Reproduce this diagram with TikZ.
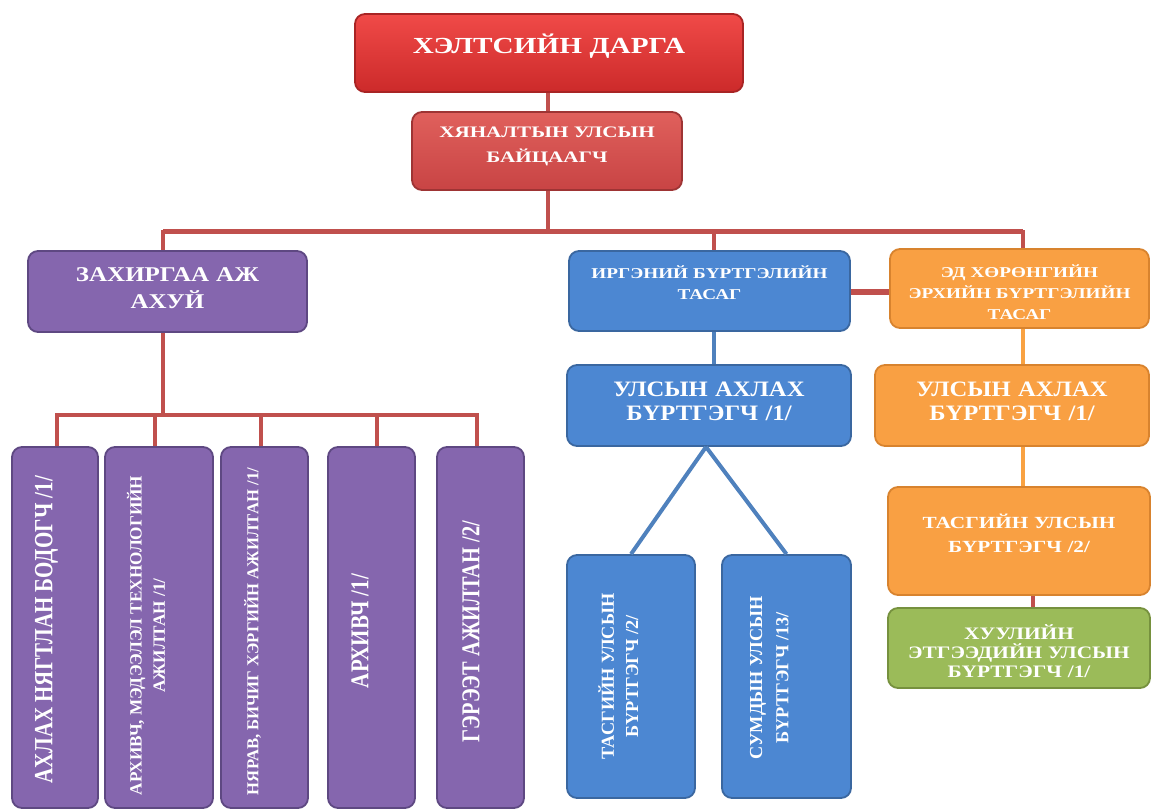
\documentclass[tikz,border=0pt]{standalone}
\usepackage{fontspec}
\usepackage{graphicx}
\setmainfont{Liberation Serif}
\newfontfamily\stTitle[FakeStretch=1.27]{Liberation Serif}
\newfontfamily\stIns[FakeStretch=1.32]{Liberation Serif}
\newfontfamily\stAdm[FakeStretch=1.19]{Liberation Serif}
\newfontfamily\stDep[FakeStretch=1.28]{Liberation Serif}
\newfontfamily\stSen[FakeStretch=1.12]{Liberation Serif}
\newfontfamily\stTas[FakeStretch=1.25]{Liberation Serif}
\newfontfamily\stGrn[FakeStretch=1.22]{Liberation Serif}
\definecolor{redT}{HTML}{F04A48}
\definecolor{redB}{HTML}{CC2A2A}
\definecolor{redE}{HTML}{A82424}
\definecolor{insT}{HTML}{E0605C}
\definecolor{insB}{HTML}{C84444}
\definecolor{insE}{HTML}{9E3434}
\definecolor{purF}{HTML}{8566AE}
\definecolor{purE}{HTML}{5E4882}
\definecolor{bluF}{HTML}{4C87D2}
\definecolor{bluE}{HTML}{3A67A0}
\definecolor{oraF}{HTML}{F9A043}
\definecolor{oraE}{HTML}{D8832E}
\definecolor{grnF}{HTML}{9BBB59}
\definecolor{grnE}{HTML}{76913E}
\definecolor{lnRed}{HTML}{C0504D}
\definecolor{lnBlue}{HTML}{4F81BD}
\definecolor{lnOra}{HTML}{F9A242}
\newcommand{\fs}[1]{\fontsize{#1}{#1}\selectfont}
\newcommand{\vtxt}[2]{\rotatebox{90}{\scalebox{1}[#1]{#2}}}
\tikzset{
  x=1pt, y=-1pt,
  box/.style={rounded corners=10pt, line width=1.8pt, inner sep=0pt},
  redbox/.style={box, draw=redE, top color=redT, bottom color=redB},
  insbox/.style={box, draw=insE, top color=insT, bottom color=insB},
  purbox/.style={box, draw=purE, fill=purF},
  blubox/.style={box, draw=bluE, fill=bluF},
  orabox/.style={box, draw=oraE, fill=oraF},
  grnbox/.style={box, draw=grnE, fill=grnF},
  rline/.style={draw=lnRed, line width=4pt},
  bline/.style={draw=lnBlue, line width=4pt},
  oline/.style={draw=lnOra, line width=4pt},
  lbl/.style={text=white, align=center, inner sep=0pt, text width=260pt},
  vlbl/.style={text=white, inner sep=0pt},
  bs/.style={execute at begin node={\setlength{\baselineskip}{#1}}},
}
\begin{document}
\begin{tikzpicture}
\useasboundingbox (0,0) rectangle (1151,810);
% top
\node[redbox, minimum width=388, minimum height=78,
  label={[lbl, text width=370pt, font=\stTitle\bfseries\fs{23}, yshift=7pt]center:ХЭЛТСИЙН ДАРГА}] (dir) at (549,53) {};
\node[insbox, minimum width=270, minimum height=78,
  label={[lbl, font=\stIns\bfseries\fs{16}, bs=25pt, yshift=5pt]center:ХЯНАЛТЫН УЛСЫН\\БАЙЦААГЧ}] (insp) at (547,151) {};
% second level
\node[purbox, minimum width=279, minimum height=81,
  label={[lbl, font=\stAdm\bfseries\fs{21}, bs=27pt, yshift=3pt]center:ЗАХИРГАА АЖ\\АХУЙ}] (adm) at (167.5,291.5) {};
\node[blubox, minimum width=281, minimum height=80,
  label={[lbl, font=\stDep\bfseries\fs{15}, bs=21pt, yshift=8pt]center:ИРГЭНИЙ БҮРТГЭЛИЙН\\ТАСАГ}] (civ) at (709.5,291) {};
\node[orabox, minimum width=259, minimum height=79,
  label={[lbl, font=\stDep\bfseries\fs{15}, bs=21pt, yshift=-4pt]center:ЭД ХӨРӨНГИЙН\\ЭРХИЙН БҮРТГЭЛИЙН\\ТАСАГ}] (prop) at (1019.5,288.5) {};
% third level
\node[blubox, minimum width=284, minimum height=81,
  label={[lbl, font=\stSen\bfseries\fs{22}, bs=24pt, yshift=4pt]center:УЛСЫН АХЛАХ\\БҮРТГЭГЧ /1/}] (civs) at (709,405.5) {};
\node[orabox, minimum width=274, minimum height=81,
  label={[lbl, font=\stSen\bfseries\fs{22}, bs=24pt, yshift=4pt]center:УЛСЫН АХЛАХ\\БҮРТГЭГЧ /1/}] (props) at (1012,405.5) {};
\node[orabox, minimum width=262, minimum height=108,
  label={[lbl, font=\stTas\bfseries\fs{17}, bs=24pt, yshift=8pt]center:ТАСГИЙН УЛСЫН\\БҮРТГЭГЧ /2/}] (prop2) at (1019,541) {};
\node[grnbox, minimum width=262, minimum height=80,
  label={[lbl, font=\stGrn\bfseries\fs{17.5}, bs=19pt, yshift=-3pt]center:ХУУЛИЙН\\ЭТГЭЭДИЙН УЛСЫН\\БҮРТГЭГЧ /1/}] (legal) at (1019,648) {};
% blue children
\node[blubox, minimum width=128, minimum height=243,
  label={[vlbl, font=\bfseries\fs{18.3}, xshift=-10pt]center:\vtxt{1}{\begin{tabular}{@{}c@{}}ТАСГИЙН УЛСЫН\\[6pt]БҮРТГЭГЧ /2/\end{tabular}}}] (civ1) at (631,676.5) {};
\node[blubox, minimum width=129, minimum height=243,
  label={[vlbl, font=\bfseries\fs{18.3}, xshift=-15pt, yshift=-1.5pt]center:\vtxt{1}{\begin{tabular}{@{}c@{}}СУМДЫН УЛСЫН\\[8pt]БҮРТГЭГЧ /13/\end{tabular}}}] (civ2) at (786.5,676.5) {};
% purple bottom row
\node[purbox, minimum width=86, minimum height=361,
  label={[vlbl, font=\bfseries\fs{21}, xshift=-8.5pt, yshift=-2.5pt]center:\vtxt{1.25}{АХЛАХ НЯГТЛАН БОДОГЧ /1/}}] (b1) at (55,627.5) {};
\node[purbox, minimum width=108, minimum height=361,
  label={[vlbl, font=\bfseries\fs{17.2}, xshift=-10.5pt, yshift=-8pt]center:\vtxt{1}{\begin{tabular}{@{}c@{}}АРХИВЧ, МЭДЭЭЛЭЛ ТЕХНОЛОГИЙН\\[6pt]АЖИЛТАН /1/\end{tabular}}}] (b2) at (159,627.5) {};
\node[purbox, minimum width=87, minimum height=361,
  label={[vlbl, font=\bfseries\fs{16.7}, xshift=-12pt, yshift=-4pt]center:\vtxt{1}{НЯРАВ, БИЧИГ ХЭРГИЙН АЖИЛТАН /1/}}] (b3) at (264.5,627.5) {};
\node[purbox, minimum width=87, minimum height=361,
  label={[vlbl, font=\bfseries\fs{21}, xshift=-11.5pt, yshift=-3.5pt]center:\vtxt{1.22}{АРХИВЧ /1/}}] (b4) at (371.5,627.5) {};
\node[purbox, minimum width=87, minimum height=361,
  label={[vlbl, font=\bfseries\fs{20.4}, xshift=-9.5pt, yshift=-4pt]center:\vtxt{1.26}{ГЭРЭЭТ АЖИЛТАН /2/}}] (b5) at (480.5,627.5) {};
% connectors
\coordinate (j1) at (548,232);
\coordinate (barL) at (163,232);
\coordinate (barR) at (1023,232);
\coordinate (barC) at (714,232);
\draw[rline] (dir.south -| j1) -- (insp.north -| j1);
\draw[rline] (insp.south -| j1) -- (j1);
\draw[rline] (adm.north -| barL) -- (barL) -- (barR) -- (prop.north -| barR);
\draw[rline, line width=5pt] (barL) -- (barR);
\draw[rline] (barC) -- (civ.north -| barC);
\draw[rline, line width=6pt] (civ.east |- 0,292) -- (prop.west |- 0,292);
% admin children
\coordinate (j2) at (163,415);
\coordinate (d1) at (57,415);
\coordinate (d2) at (155,415);
\coordinate (d3) at (261,415);
\coordinate (d4) at (377,415);
\coordinate (d5) at (477,415);
\draw[rline] (adm.south -| j2) -- (j2);
\draw[rline] (b1.north -| d1) -- (d1) -- (d5) -- (b5.north -| d5);
\draw[rline] (b2.north -| d2) -- (d2);
\draw[rline] (b3.north -| d3) -- (d3);
\draw[rline] (b4.north -| d4) -- (d4);
% civil registration
\coordinate (j3) at (714,340);
\draw[bline] (civ.south -| j3) -- (civs.north -| j3);
\coordinate (civsb) at (706,446);
\draw[bline] (civs.south -| civsb) -- (civ1.north);
\draw[bline] (civs.south -| civsb) -- (civ2.north);
% property registration
\coordinate (j4) at (1023,340);
\draw[oline] (prop.south -| j4) -- (props.north -| j4);
\draw[oline] (props.south -| j4) -- (prop2.north -| j4);
\coordinate (j5) at (1033,600);
\draw[rline] (prop2.south -| j5) -- (legal.north -| j5);
\end{tikzpicture}
\end{document}
